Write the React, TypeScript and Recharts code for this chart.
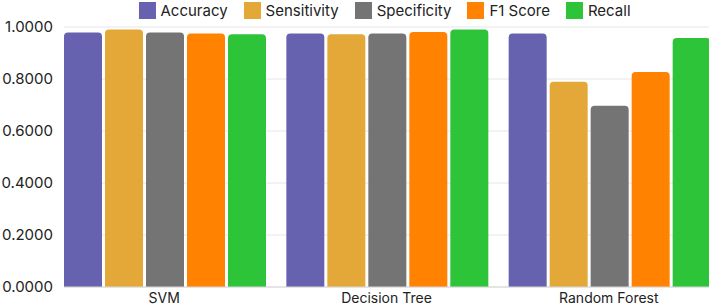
import React from 'react';
import { BarChart, Bar, XAxis, YAxis, CartesianGrid } from 'recharts';

// Model comparison metrics
const models = ['SVM', 'Decision Tree', 'Random Forest'];
const accuracy = [0.979, 0.975, 0.975];
const sensitivity = [0.99, 0.972, 0.789];
const specificity = [0.979, 0.975, 0.697];
const f1Score = [0.975, 0.981, 0.827];
const recall = [0.972, 0.99, 0.958];
const yTicks = [0, 0.2, 0.4, 0.6, 0.8, 1.0];

const SERIES = [
  { key: 'accuracy', name: 'Accuracy', color: '#6662b0', values: accuracy },
  { key: 'sensitivity', name: 'Sensitivity', color: '#e3a838', values: sensitivity },
  { key: 'specificity', name: 'Specificity', color: '#747474', values: specificity },
  { key: 'f1', name: 'F1 Score', color: '#ff8200', values: f1Score },
  { key: 'recall', name: 'Recall', color: '#2ec43a', values: recall },
];

const data = models.map((m, i) => {
  const row: Record<string, string | number> = { model: m };
  SERIES.forEach(s => { row[s.key] = s.values[i]; });
  return row;
});

const FONT = 'Inter, "Noto Sans", sans-serif';

const Legend = () => (
  <div
    style={{
      position: 'absolute',
      top: 2,
      left: 384.5,
      transform: 'translateX(-50%)',
      display: 'flex',
      gap: 16,
      whiteSpace: 'nowrap',
      fontFamily: FONT,
      fontSize: 15,
      color: '#222',
      lineHeight: '17px',
    }}
  >
    {SERIES.map(s => (
      <div key={s.key} style={{ display: 'flex', alignItems: 'center', gap: 5 }}>
        <div style={{ width: 17, height: 17, background: s.color }} />
        <span>{s.name}</span>
      </div>
    ))}
  </div>
);

export default function App() {
  return (
    <div style={{ position: 'absolute', top: 0, left: 0, width: 709, height: 307, overflow: 'hidden', background: '#fff' }}>
      <BarChart
        width={720}
        height={307}
        data={data}
        margin={{ top: 27, right: 11, bottom: 0, left: 0 }}
        barCategoryGap={11}
        barGap={3}
      >
        <CartesianGrid vertical={false} stroke="#e6e6e6" />
        <XAxis
          dataKey="model"
          height={20}
          padding={{ left: -11, right: -11 }}
          tickLine={false}
          tickSize={0}
          tickMargin={6}
          axisLine={{ stroke: '#d6d6d6' }}
          tick={{ fill: '#222', fontSize: 14, fontFamily: FONT }}
        />
        <YAxis
          width={64}
          domain={[0, 1]}
          ticks={yTicks}
          interval={0}
          axisLine={false}
          tickLine={false}
          tickSize={0}
          tickMargin={11}
          tickFormatter={(v: number) => v.toFixed(4)}
          tick={{ fill: '#222', fontSize: 15, fontFamily: FONT }}
        />
        {SERIES.map(s => (
          <Bar
            key={s.key}
            dataKey={s.key}
            name={s.name}
            fill={s.color}
            radius={[4, 4, 0, 0]}
            isAnimationActive={false}
          />
        ))}
      </BarChart>
      <Legend />
    </div>
  );
}
